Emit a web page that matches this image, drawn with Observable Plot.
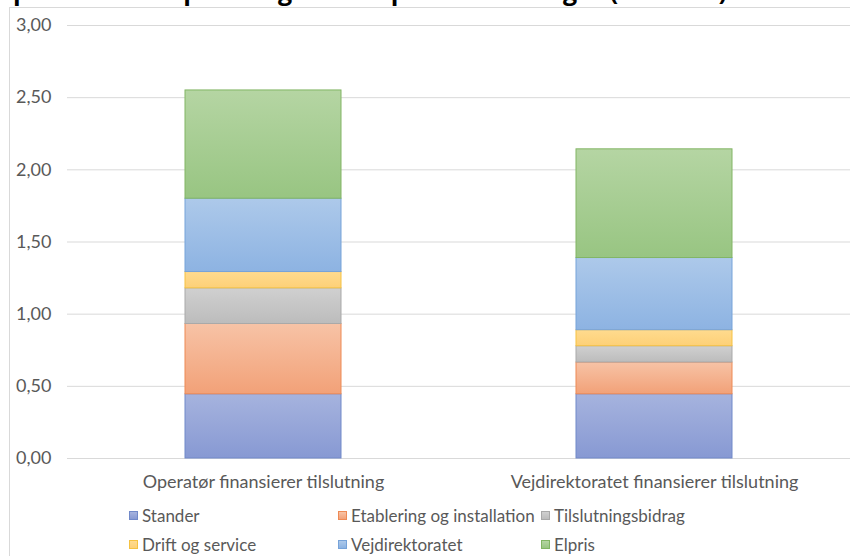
<!DOCTYPE html>
<html>
<head>
<meta charset="utf-8">
<script src="https://cdn.jsdelivr.net/npm/d3@7"></script>
<script src="https://cdn.jsdelivr.net/npm/@observablehq/plot@0.6"></script>
<style>
  body { margin: 0; background: #fff; }
  #wrap { position: relative; width: 850px; height: 556px; overflow: hidden; background: #fff; font-family: Lato, "Open Sans", sans-serif; }
  #frame { position: absolute; left: 9px; top: 7px; width: 900px; height: 600px; border: 1px solid #d9d9d9; box-sizing: border-box; }
  #title { position: absolute; right: 123px; top: -27px; line-height: 1; white-space: nowrap; text-align: right; font: bold 25px "Open Sans", sans-serif; color: #000; }
  #chart { position: absolute; left: 0; top: 0; }
  #legend { position: absolute; left: 129px; top: 505px; display: grid; grid-template-columns: 209px 203px auto; row-gap: 9px; font-size: 17px; color: #595959; }
  .item { display: flex; align-items: center; height: 20px; white-space: nowrap; }
  .sw { width: 7px; height: 7px; margin-right: 4px; border: 1px solid; flex: none; }
</style>
</head>
<body>
<div id="wrap">
  <div id="title">Figur 4: Pris pr. kWh ved opladning fordelt på omkostninger (kr./kWh)</div>
  <div id="frame"></div>
  <div id="chart"></div>
  <div id="legend"></div>
</div>
<script>
const categories = ["Operatør finansierer tilslutning", "Vejdirektoratet finansierer tilslutning"];
const series = ["Stander", "Etablering og installation", "Tilslutningsbidrag", "Drift og service", "Vejdirektoratet", "Elpris"];
const operatorValues = [0.445, 0.487, 0.247, 0.113, 0.508, 0.75];
const vejdirValues = [0.445, 0.22, 0.113, 0.111, 0.50, 0.753];
const yTicks = [0, 0.5, 1, 1.5, 2, 2.5, 3];
const legendOrder = ["Stander", "Etablering og installation", "Tilslutningsbidrag", "Drift og service", "Vejdirektoratet", "Elpris"];

const topColors = ["#a6b3de", "#f7c3a6", "#d0d0d0", "#ffdb8f", "#adc9ea", "#b5d5a3"];
const bottomColors = ["#8799d3", "#f2a178", "#bcbcbc", "#fdd077", "#8db3e2", "#98c582"];
const borderColors = ["#7189c9", "#ee8a55", "#a9a9a9", "#f5c242", "#77a3d9", "#82b564"];

const data = [];
categories.forEach((c, ci) => {
  const vals = ci === 0 ? operatorValues : vejdirValues;
  series.forEach((s, si) => data.push({cat: c, series: s, value: vals[si]}));
});

const plot = Plot.plot({
  width: 850,
  height: 500,
  marginTop: 25,
  marginBottom: 42,
  marginLeft: 67,
  marginRight: 0,
  style: {fontFamily: "Lato, 'Open Sans', sans-serif", fontSize: "18px", color: "#595959", background: "transparent"},
  x: {domain: categories, paddingInner: 0.6, paddingOuter: 0.3, label: null, tickSize: 0, tickPadding: 17},
  y: {domain: [0, 3], ticks: yTicks, tickFormat: d => d.toFixed(2).replace(".", ","), tickSize: 0, tickPadding: 16, label: null},
  color: {domain: series, range: series.map((_, i) => `url(#grad${i})`)},
  marks: [
    Plot.ruleY(yTicks, {stroke: "#d9d9d9", strokeWidth: 1}),
    Plot.barY(data, {x: "cat", y: "value", fill: "series"})
  ]
});

const ns = "http://www.w3.org/2000/svg";
const defs = document.createElementNS(ns, "defs");
series.forEach((s, i) => {
  const g = document.createElementNS(ns, "linearGradient");
  g.setAttribute("id", `grad${i}`);
  g.setAttribute("x1", "0"); g.setAttribute("y1", "0");
  g.setAttribute("x2", "0"); g.setAttribute("y2", "1");
  [[0, topColors[i]], [1, bottomColors[i]]].forEach(([o, c]) => {
    const st = document.createElementNS(ns, "stop");
    st.setAttribute("offset", o);
    st.setAttribute("stop-color", c);
    g.appendChild(st);
  });
  defs.appendChild(g);
});
plot.insertBefore(defs, plot.firstChild);
plot.querySelectorAll("rect").forEach(r => {
  const f = r.getAttribute("fill") || "";
  const m = f.match(/url\(#grad(\d+)\)/);
  if (m) { r.setAttribute("stroke", borderColors[+m[1]]); r.setAttribute("stroke-width", 1); }
});
document.getElementById("chart").appendChild(plot);

const legend = document.getElementById("legend");
legendOrder.forEach(s => {
  const i = series.indexOf(s);
  const item = document.createElement("div");
  item.className = "item";
  const sw = document.createElement("span");
  sw.className = "sw";
  sw.style.background = `linear-gradient(${topColors[i]}, ${bottomColors[i]})`;
  sw.style.borderColor = borderColors[i];
  item.appendChild(sw);
  item.appendChild(document.createTextNode(s));
  legend.appendChild(item);
});
</script>
</body>
</html>
